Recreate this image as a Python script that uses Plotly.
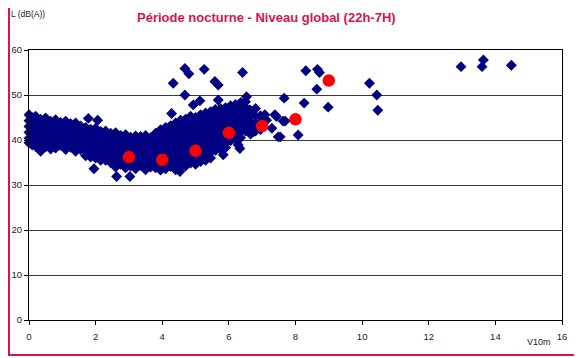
import plotly.graph_objects as go

# --- Mesures individuelles : vitesse du vent à 10 m (m/s) ---
v10m = [
    0.0, 0.0, 0.0, 0.0, 0.0, 0.0,
    0.1, 0.1, 0.1, 0.1, 0.1, 0.1,
    0.2, 0.2, 0.2, 0.2, 0.2, 0.2,
    0.35, 0.35, 0.35, 0.35, 0.35, 0.35,
    0.5, 0.5, 0.5, 0.5, 0.5, 0.5,
    0.65, 0.65, 0.65, 0.65, 0.65, 0.65,
    0.8, 0.8, 0.8, 0.8, 0.8, 0.8,
    0.95, 0.95, 0.95, 0.95, 0.95,
    1.1, 1.1, 1.1, 1.1, 1.1, 1.1,
    1.25, 1.25, 1.25, 1.25, 1.25,
    1.4, 1.4, 1.4, 1.4, 1.4, 1.4,
    1.55, 1.55, 1.55, 1.55, 1.55,
    1.7, 1.7, 1.7, 1.7, 1.7, 1.7,
    1.85, 1.85, 1.85, 1.85, 1.85, 1.85,
    2.0, 2.0, 2.0, 2.0, 2.0, 2.0,
    2.15, 2.15, 2.15, 2.15, 2.15, 2.15,
    2.3, 2.3, 2.3, 2.3, 2.3, 2.3,
    2.45, 2.45, 2.45, 2.45, 2.45, 2.45,
    2.6, 2.6, 2.6, 2.6, 2.6, 2.6, 2.6,
    2.75, 2.75, 2.75, 2.75, 2.75, 2.75,
    2.9, 2.9, 2.9, 2.9, 2.9, 2.9, 2.9,
    3.05, 3.05, 3.05, 3.05, 3.05, 3.05,
    3.2, 3.2, 3.2, 3.2, 3.2, 3.2, 3.2,
    3.35, 3.35, 3.35, 3.35, 3.35, 3.35,
    3.5, 3.5, 3.5, 3.5, 3.5, 3.5, 3.5,
    3.65, 3.65, 3.65, 3.65, 3.65, 3.65,
    3.8, 3.8, 3.8, 3.8, 3.8, 3.8, 3.8,
    3.95, 3.95, 3.95, 3.95, 3.95, 3.95, 3.95, 3.95,
    4.1, 4.1, 4.1, 4.1, 4.1, 4.1, 4.1, 4.1,
    4.25, 4.25, 4.25, 4.25, 4.25, 4.25, 4.25, 4.25,
    4.4, 4.4, 4.4, 4.4, 4.4, 4.4, 4.4, 4.4, 4.4,
    4.55, 4.55, 4.55, 4.55, 4.55, 4.55, 4.55, 4.55, 4.55,
    4.7, 4.7, 4.7, 4.7, 4.7, 4.7, 4.7, 4.7, 4.7,
    4.85, 4.85, 4.85, 4.85, 4.85, 4.85, 4.85, 4.85, 4.85,
    5.0, 5.0, 5.0, 5.0, 5.0, 5.0, 5.0, 5.0, 5.0,
    5.15, 5.15, 5.15, 5.15, 5.15, 5.15, 5.15, 5.15, 5.15,
    5.3, 5.3, 5.3, 5.3, 5.3, 5.3, 5.3, 5.3, 5.3,
    5.45, 5.45, 5.45, 5.45, 5.45, 5.45, 5.45, 5.45, 5.45,
    5.6, 5.6, 5.6, 5.6, 5.6, 5.6, 5.6, 5.6,
    5.75, 5.75, 5.75, 5.75, 5.75, 5.75, 5.75, 5.75,
    5.9, 5.9, 5.9, 5.9, 5.9, 5.9, 5.9, 5.9,
    6.05, 6.05, 6.05, 6.05, 6.05, 6.05, 6.05,
    6.2, 6.2, 6.2, 6.2, 6.2, 6.2, 6.2,
    6.35, 6.35, 6.35, 6.35, 6.35, 6.35, 6.35,
    6.5, 6.5, 6.5, 6.5, 6.5, 6.5,
    6.65, 6.65, 6.65, 6.65, 6.65,
    6.8, 6.8, 6.8, 6.8,
    6.95, 6.95, 6.95,
]

# --- Mesures individuelles : niveau global L (dB(A)) ---
niveau = [
    45.6, 44.3, 43.0, 41.7, 40.4, 39.4,
    45.0, 43.6, 42.3, 41.0, 39.8, 38.9,
    45.3, 44.0, 42.7, 41.4, 40.1, 38.6,
    44.6, 43.3, 42.0, 40.7, 39.4, 37.5,
    44.9, 43.6, 42.3, 41.0, 39.7, 38.5,
    44.2, 42.9, 41.6, 40.3, 39.0, 38.0,
    44.5, 43.2, 41.9, 40.6, 39.3, 38.2,
    43.9, 42.6, 41.3, 40.0, 38.8,
    44.2, 42.9, 41.6, 40.3, 39.0, 37.9,
    43.6, 42.3, 41.0, 39.7, 38.4,
    43.8, 42.5, 41.2, 39.9, 38.6, 37.5,
    43.1, 41.8, 40.5, 39.2, 37.9,
    42.8, 41.5, 40.2, 38.9, 37.6, 36.5,
    42.4, 41.1, 39.8, 38.5, 37.2, 36.2,
    42.6, 41.3, 40.0, 38.7, 37.4, 36.0,
    41.9, 40.6, 39.3, 38.0, 36.7, 35.5,
    42.0, 40.7, 39.4, 38.1, 36.8, 35.5,
    41.5, 40.2, 38.9, 37.6, 36.3, 35.0,
    41.6, 40.3, 39.0, 37.7, 36.4, 35.1, 34.0,
    41.0, 39.7, 38.4, 37.1, 35.8, 34.6,
    41.2, 39.9, 38.6, 37.3, 36.0, 34.7, 33.8,
    40.6, 39.3, 38.0, 36.7, 35.4, 34.2,
    40.9, 39.6, 38.3, 37.0, 35.7, 34.4, 33.6,
    40.8, 39.5, 38.2, 36.9, 35.6, 34.3,
    41.0, 39.7, 38.4, 37.1, 35.8, 34.5, 33.4,
    40.5, 39.2, 37.9, 36.6, 35.3, 34.0,
    41.5, 40.2, 38.9, 37.6, 36.3, 35.0, 33.8,
    42.3, 41.0, 39.7, 38.4, 37.1, 35.8, 34.5, 33.3,
    42.8, 41.5, 40.2, 38.9, 37.6, 36.3, 35.0, 33.6,
    43.2, 41.9, 40.6, 39.3, 38.0, 36.7, 35.4, 34.1,
    43.8, 42.5, 41.2, 39.9, 38.6, 37.3, 36.0, 34.7, 33.4,
    44.4, 43.1, 41.8, 40.5, 39.2, 37.9, 36.6, 35.3, 34.0,
    44.6, 43.3, 42.0, 40.7, 39.4, 38.1, 36.8, 35.5, 34.2,
    45.3, 44.0, 42.7, 41.4, 40.1, 38.8, 37.5, 36.2, 34.9,
    45.0, 43.7, 42.4, 41.1, 39.8, 38.5, 37.2, 35.9, 34.6,
    45.6, 44.3, 43.0, 41.7, 40.4, 39.1, 37.8, 36.5, 35.2,
    46.0, 44.7, 43.4, 42.1, 40.8, 39.5, 38.2, 36.9, 35.5,
    46.3, 45.0, 43.7, 42.4, 41.1, 39.8, 38.5, 37.2, 36.0,
    46.8, 45.5, 44.2, 42.9, 41.6, 40.3, 39.0, 37.7,
    47.0, 45.7, 44.4, 43.1, 41.8, 40.5, 39.2, 38.0,
    47.2, 45.9, 44.6, 43.3, 42.0, 40.7, 39.4, 38.3,
    47.6, 46.3, 45.0, 43.7, 42.4, 41.1, 39.8,
    47.9, 46.6, 45.3, 44.0, 42.7, 41.4, 40.1,
    48.3, 47.0, 45.7, 44.4, 43.1, 41.8, 40.5,
    48.5, 47.2, 45.9, 44.6, 43.3, 42.0,
    46.5, 45.2, 43.9, 42.6, 41.3,
    47.0, 45.3, 43.6, 42.0,
    45.4, 44.0, 42.3,
]

# --- Mesures isolées (hors nuage principal) ---
v10m_isoles = [
    1.78, 2.06, 1.95, 2.63, 3.03, 4.53,
    4.68, 4.80, 5.26, 4.33, 5.58, 5.68, 6.41,
    4.68, 4.93, 5.13, 5.68, 6.53, 7.66, 4.28,
    5.58, 6.38, 6.63, 7.08, 7.38, 7.43, 7.48,
    7.29, 5.83, 6.28, 6.33, 6.73, 6.43, 7.13, 8.08, 7.69,
    8.31, 8.66, 8.72, 8.64, 8.26, 8.98, 7.63, 7.54,
    10.22, 10.44, 10.47, 12.97, 13.64, 13.60, 14.48,
]
niveau_isoles = [
    44.8, 44.4, 33.6, 31.9, 31.9, 33.0,
    55.9, 54.7, 55.7, 52.6, 53.0, 52.2, 55.0,
    50.0, 47.8, 48.7, 48.9, 49.6, 49.3, 45.9,
    46.7, 48.2, 46.7, 45.6, 45.6, 45.2, 40.7,
    42.6, 36.7, 38.9, 38.1, 41.8, 43.3, 44.4, 41.1, 44.2,
    55.4, 55.7, 55.0, 51.3, 48.2, 47.3, 44.2, 40.7,
    52.6, 50.0, 46.6, 56.3, 57.8, 56.3, 56.6,
]

# --- Moyennes par classe de vent ---
v10m_moy = [3, 4, 5, 6, 7, 8, 9]
niveau_moy = [36.2, 35.6, 37.6, 41.6, 43.1, 44.6, 53.2]

x_ticks = [0, 2, 4, 6, 8, 10, 12, 14, 16]
y_ticks = [0, 10, 20, 30, 40, 50, 60]

CRIMSON = "#D81450"
FONT = "Liberation Sans, Arial, sans-serif"

fig = go.Figure()
fig.add_trace(go.Scatter(
    x=v10m + v10m_isoles, y=niveau + niveau_isoles, mode="markers",
    marker=dict(symbol="diamond", size=8.4, color="#000080", line=dict(width=0)),
    cliponaxis=False, showlegend=False, hoverinfo="skip"))
fig.add_trace(go.Scatter(
    x=v10m_moy, y=niveau_moy, mode="markers",
    marker=dict(symbol="circle", size=12.5, color="#FF0000", line=dict(width=0)),
    cliponaxis=False, showlegend=False, hoverinfo="skip"))

# The page body adds an 8px offset; window pixel p -> figure pixel p - 8.
OFF = 8
W, H = 582 - OFF, 358 - OFF
L, T = 29 - OFF, 50 - OFF
R = W - (562 - OFF)
B = H - (320 - OFF)
pw, ph = W - L - R, H - T - B

def px(xp):
    return (xp - OFF - L) / pw

def py(yp):
    return (H - B - (yp - OFF)) / ph

fig.update_layout(
    width=W, height=H,
    margin=dict(l=L, r=R, t=T, b=B, autoexpand=False),
    paper_bgcolor="white", plot_bgcolor="white",
    font=dict(family=FONT, size=9, color="#222"),
    xaxis=dict(range=[0, 16], tickvals=x_ticks, ticks="outside", ticklen=4,
               tickcolor="black", showline=True, linecolor="black", linewidth=1,
               mirror=True, showgrid=False, zeroline=False,
               ticklabelstandoff=4,
               tickfont=dict(size=9.5, color="#222")),
    yaxis=dict(range=[0, 60], tickvals=y_ticks, ticks="outside", ticklen=4,
               tickcolor="black", showline=True, linecolor="black", linewidth=1,
               mirror=True, showgrid=True, gridcolor="#3a3a3a", gridwidth=1,
               zeroline=False, tickfont=dict(size=9.5, color="#222")),
    shapes=[dict(type="rect", xref="paper", yref="paper",
                 x0=px(9), x1=px(581), y0=py(355), y1=py(4),
                 line=dict(color=CRIMSON, width=2), layer="above")],
    annotations=[
        dict(text="<b>Période nocturne - Niveau global (22h-7H)</b>",
             xref="paper", yref="paper", x=px(266.5), y=py(17),
             xanchor="center", yanchor="middle", showarrow=False,
             font=dict(family=FONT, size=13, color=CRIMSON)),
        dict(text="L (dB(A))", xref="paper", yref="paper", x=px(9), y=py(14),
             xanchor="left", yanchor="middle", showarrow=False,
             font=dict(family=FONT, size=8.5, color="#222")),
        dict(text="V10m", xref="paper", yref="paper", x=px(539), y=py(342),
             xanchor="center", yanchor="middle", showarrow=False,
             font=dict(family=FONT, size=9, color="#222")),
    ],
)

fig.write_html("out.html")
